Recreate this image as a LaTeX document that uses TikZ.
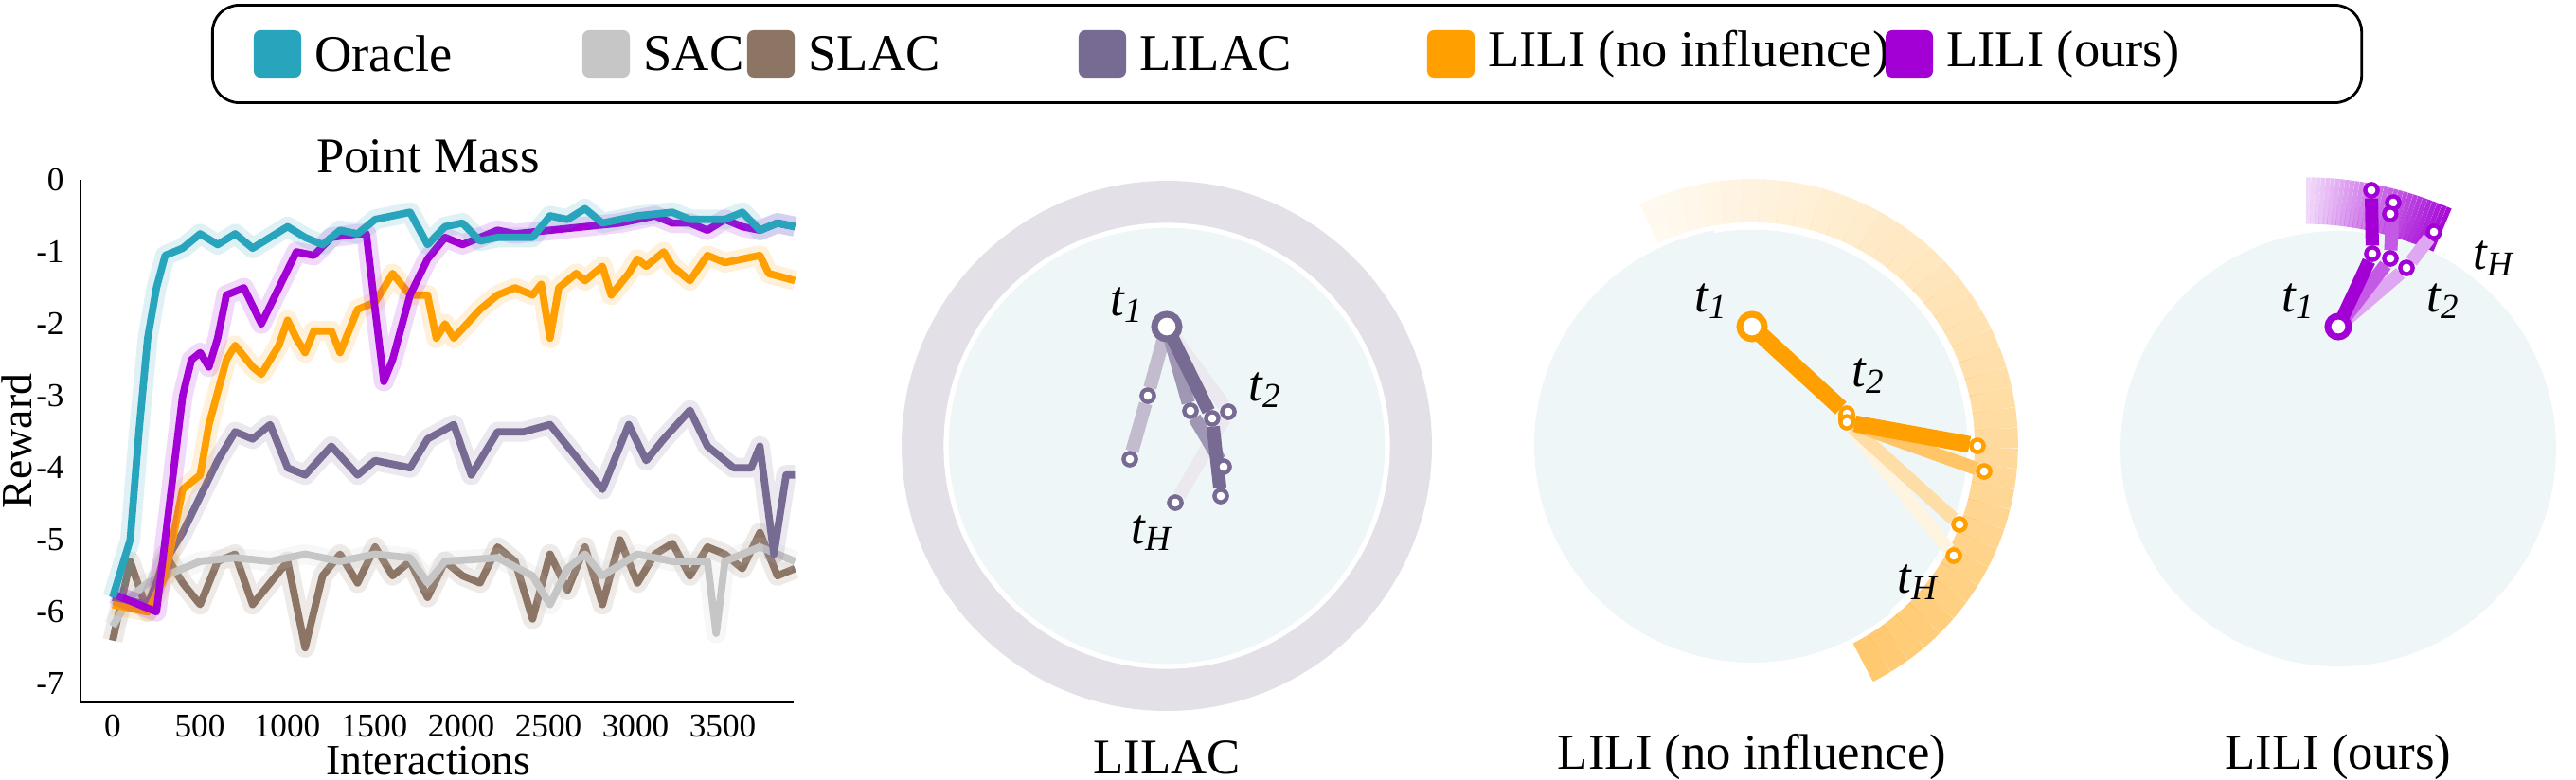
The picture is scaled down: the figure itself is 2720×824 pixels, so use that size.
\documentclass[tikz,border=0pt]{standalone}
\usepackage{fontspec}
\setmainfont{Liberation Serif}
\begin{document}
\begin{tikzpicture}[x=0.01cm,y=-0.01cm,
  lbl/.style={font=\fontsize{15.5}{17}\selectfont, anchor=west},
  sw/.style={rounded corners=2pt, minimum width=0.5cm, minimum height=0.5cm, inner sep=0pt},
  crv/.style={line width=2.2pt, line join=round},
  band/.style={line width=6pt, opacity=0.15, line join=round},
  tick/.style={font=\fontsize{10}{11}\selectfont},
  ttl/.style={font=\fontsize{15}{17}\selectfont},
  axl/.style={font=\fontsize{13}{15}\selectfont},
  tl/.style={font=\fontsize{15}{17}\selectfont\itshape},
  pt/.style={circle, draw=#1, fill=white, line width=1.2pt, inner sep=0pt, minimum size=0.13cm}]
\definecolor{cOr}{HTML}{29A4BD}\definecolor{cSac}{HTML}{C6C6C6}\definecolor{cSlac}{HTML}{8C7565}
\definecolor{cLilac}{HTML}{776A93}\definecolor{cNo}{HTML}{FF9F00}\definecolor{cOurs}{HTML}{A300D6}
\definecolor{pale}{HTML}{EEF6F8}\definecolor{ring}{HTML}{E3E0E8}
\useasboundingbox (0,0) rectangle (2720,824);
% legend
\node[draw, rounded corners=8pt, line width=0.8pt, minimum width=22.68cm, minimum height=1.03cm] (leg) at (1359,57) {};
\node[sw, fill=cOr] (s1) at (293,57) {}; \node[lbl] (l1) at (320,57) {Oracle};
\node[sw, fill=cSac] (s2) at (640,57) {}; \node[lbl] (l2) at (667,57) {SAC};
\node[sw, fill=cSlac] (s3) at (814,57) {}; \node[lbl] (l3) at (841,57) {SLAC};
\node[sw, fill=cLilac] (s4) at (1164,57) {}; \node[lbl] (l4) at (1191,57) {LILAC};
\node[sw, fill=cNo] (s5) at (1532,57) {}; \node[lbl] (l5) at (1559,57) {LILI (no influence)};
\node[sw, fill=cOurs] (s6) at (2016,57) {}; \node[lbl] (l6) at (2043,57) {LILI (ours)};
% plot
\node[ttl] (pm) at (452,165) {Point Mass};
\node[axl, rotate=90] (rw) at (18,466) {Reward};
\node[axl, anchor=base] (ia) at (452,818) {Interactions};
\draw[line width=0.8pt] (85,190) -- (85,742) -- (838,742);
\foreach \v in {0,...,7} { \node[tick, anchor=east] (yt\v) at (80,190+76*\v) {\ifnum\v=0 0\else -\v\fi}; }
\foreach \v in {0,...,7} { \node[tick] (xt\v) at (119+92*\v,767) {\pgfmathparse{int(500*\v)}\pgfmathresult}; }
\begin{scope}[shift={(119,190)}, x=0.00184cm, y=0.76cm]
\def\dSac{(0,-6.2)(100,-5.8)(200,-5.6)(300,-5.5)(400,-5.4)(500,-5.3)(700,-5.25)(900,-5.3)(1100,-5.2)(1300,-5.3)(1500,-5.2)(1700,-5.25)(1800,-5.6)(1900,-5.3)(2200,-5.25)(2400,-5.5)(2500,-5.9)(2600,-5.4)(2700,-5.2)(2800,-5.5)(3000,-5.2)(3200,-5.3)(3400,-5.3)(3450,-6.3)(3500,-5.3)(3700,-5.1)(3900,-5.3)}
\def\dSlac{(0,-6.4)(100,-5.3)(200,-6)(300,-5.2)(400,-5.6)(500,-5.9)(600,-5.3)(700,-5.2)(800,-5.9)(900,-5.6)(1000,-5.3)(1100,-6.5)(1200,-5.5)(1300,-5.2)(1400,-5.6)(1500,-5.1)(1600,-5.5)(1700,-5.3)(1800,-5.8)(1900,-5.3)(2000,-5.5)(2100,-5.6)(2200,-5.1)(2300,-5.3)(2400,-6.1)(2500,-5.2)(2600,-5.7)(2700,-5.1)(2800,-5.9)(2900,-5)(3000,-5.6)(3100,-5.2)(3200,-5.05)(3300,-5.5)(3400,-5.1)(3500,-5.2)(3600,-5.4)(3700,-4.9)(3800,-5.5)(3900,-5.4)}
\def\dLilac{(0,-5.8)(200,-5.9)(300,-5.3)(400,-4.9)(500,-4.4)(600,-3.9)(700,-3.5)(800,-3.6)(900,-3.4)(1000,-4.0)(1100,-4.1)(1250,-3.7)(1400,-4.1)(1500,-3.9)(1700,-4)(1800,-3.6)(1950,-3.4)(2050,-4.1)(2200,-3.5)(2350,-3.5)(2500,-3.4)(2700,-4)(2800,-4.3)(2950,-3.4)(3050,-3.9)(3150,-3.6)(3300,-3.2)(3400,-3.7)(3550,-4)(3650,-4.0)(3700,-3.7)(3780,-5.2)(3850,-4.1)(3900,-4.1)}
\def\dNo{(0,-5.9)(200,-6)(300,-5.5)(400,-4.3)(500,-4.1)(550,-3.4)(650,-2.5)(700,-2.3)(800,-2.6)(850,-2.7)(950,-2.3)(1000,-1.95)(1050,-2.2)(1100,-2.4)(1150,-2.1)(1250,-2.1)(1300,-2.4)(1400,-1.8)(1500,-1.7)(1600,-1.3)(1700,-1.6)(1800,-1.6)(1850,-2.2)(1900,-2)(1950,-2.2)(2100,-1.8)(2200,-1.6)(2300,-1.5)(2400,-1.6)(2450,-1.45)(2500,-2.2)(2550,-1.5)(2650,-1.3)(2700,-1.4)(2800,-1.2)(2850,-1.6)(2950,-1.3)(3000,-1.1)(3050,-1.2)(3150,-1)(3200,-1.2)(3300,-1.4)(3400,-1.05)(3500,-1.15)(3600,-1.1)(3700,-1.05)(3750,-1.3)(3900,-1.4)}
\def\dOurs{(0,-5.75)(150,-5.9)(250,-6)(300,-5)(350,-4)(400,-3)(450,-2.5)(500,-2.4)(550,-2.6)(600,-2.2)(650,-1.6)(750,-1.5)(850,-2)(950,-1.5)(1050,-1)(1150,-1.05)(1250,-0.8)(1400,-0.75)(1450,-0.75)(1500,-1.8)(1550,-2.8)(1600,-2.5)(1700,-1.6)(1800,-1.1)(1900,-0.8)(2000,-0.9)(2100,-0.8)(2200,-0.7)(2300,-0.75)(2500,-0.7)(2700,-0.65)(2900,-0.6)(3000,-0.55)(3100,-0.5)(3200,-0.6)(3300,-0.6)(3400,-0.7)(3500,-0.55)(3600,-0.65)(3700,-0.7)(3800,-0.6)(3900,-0.65)}
\def\dOr{(0,-5.8)(100,-5)(150,-3.5)(200,-2.2)(250,-1.5)(300,-1.05)(400,-0.95)(500,-0.75)(600,-0.9)(700,-0.75)(800,-0.95)(900,-0.8)(1000,-0.65)(1100,-0.8)(1200,-0.9)(1300,-0.7)(1400,-0.75)(1500,-0.55)(1700,-0.45)(1800,-0.9)(1900,-0.65)(2000,-0.6)(2100,-0.85)(2200,-0.8)(2400,-0.8)(2500,-0.5)(2600,-0.55)(2700,-0.4)(2800,-0.6)(3000,-0.5)(3200,-0.45)(3300,-0.55)(3500,-0.55)(3600,-0.45)(3700,-0.7)(3800,-0.6)(3900,-0.65)}
\foreach \c/\d in {cSlac/\dSlac, cSac/\dSac, cLilac/\dLilac, cNo/\dNo, cOurs/\dOurs, cOr/\dOr}{
  \draw[band, \c] plot coordinates \d;
  \draw[crv, \c] plot coordinates \d;
}
\end{scope}
% LILAC panel
\fill[ring] (1232,471) circle (280);
\filldraw[fill=pale, draw=white, line width=1.5pt] (1232,471) circle (233);
\node[ttl] (tA) at (1232,800) {LILAC};
\coordinate (A1) at (1232,345);
\node[pt=cLilac] (a2) at (1212,418) {}; \node[pt=cLilac] (a3) at (1193,485) {};
\node[pt=cLilac] (a4) at (1257,434) {}; \node[pt=cLilac] (a5) at (1280,442) {};
\node[pt=cLilac] (a6) at (1297,435) {}; \node[pt=cLilac] (a7) at (1292,493) {};
\node[pt=cLilac] (a8) at (1289,524) {}; \node[pt=cLilac] (a9) at (1241,531) {};
\draw[line width=4pt, cLilac!15] (A1) -- (a6) -- (a9);
\draw[line width=4pt, cLilac!45] (A1) -- (a2) -- (a3);
\draw[line width=4pt, cLilac!70] (A1) -- (a4) -- (a7);
\draw[line width=4pt, cLilac] (A1) -- (a5) -- (a8);
\foreach \n in {a2,a3,a4,a5,a6,a7,a8,a9} \node[pt=cLilac] at (\n) {};
\node[pt=cLilac, minimum size=0.26cm, line width=2pt] (a1) at (A1) {};
\node[tl] (la1) at (1190,322) {t\textsubscript{1}};
\node[tl] (la2) at (1336,412) {t\textsubscript{2}};
\node[tl] (la3) at (1216,563) {t\textsubscript{H}};
% LILI no influence panel
\fill[pale] (1850,470) circle (230);
\foreach \i in {0,...,39}{
  \pgfmathsetmacro\aa{-115+\i*4.45}\pgfmathsetmacro\ab{-115+(\i+1)*4.45}
  \pgfmathsetmacro\op{0.06+0.5*\i/39}
  \draw[cNo, opacity=\op, line width=13pt] (1850,470) ++(\aa:258) arc[start angle=\aa, end angle=\ab, radius=258];
}
\draw[white, line width=1.5pt] (1850,470) ++(-100:230) arc[start angle=-100, end angle=50, radius=230];
\node[ttl] (tB) at (1850,800) {LILI (no influence)};
\coordinate (B1) at (1850,345);
\node[pt=cNo] (b2) at (1950,437) {}; \node[pt=cNo] (b3) at (1950,446) {};
\node[pt=cNo] (b4) at (2088,471) {}; \node[pt=cNo] (b5) at (2095,498) {};
\node[pt=cNo] (b6) at (2069,554) {}; \node[pt=cNo] (b7) at (2063,587) {};
\draw[line width=4pt, cNo!12] (b3) -- (b7);
\draw[line width=4pt, cNo!35] (b3) -- (b6);
\draw[line width=4pt, cNo!60] (b3) -- (b5);
\draw[line width=5pt, cNo] (B1) -- (b2) -- (b3) -- (b4);
\foreach \n in {b2,b3,b4,b5,b6,b7} \node[pt=cNo] at (\n) {};
\node[pt=cNo, minimum size=0.26cm, line width=2pt] (b1) at (B1) {};
\node[tl] (lb1) at (1807,318) {t\textsubscript{1}};
\node[tl] (lb2) at (1973,397) {t\textsubscript{2}};
\node[tl] (lb3) at (2025,615) {t\textsubscript{H}};
% LILI ours panel
\fill[pale] (2469,474) circle (230);
\foreach \i in {0,...,29}{
  \pgfmathsetmacro\xa{2435+\i*4.8}\pgfmathsetmacro\xb{2435+(\i+1)*4.8}
  \pgfmathsetmacro\ya{212+0.006*(\xa-2435)*(\xa-2435)/4}\pgfmathsetmacro\yb{212+0.006*(\xb-2435)*(\xb-2435)/4}
  \pgfmathsetmacro\op{0.15+0.8*\i/29}
  \draw[cOurs, opacity=\op, line width=14pt] (\xa,\ya) -- (\xb,\yb);
}
\node[ttl] (tC) at (2469,800) {LILI (ours)};
\coordinate (C1) at (2469,345);
\node[pt=cOurs] (c2) at (2504,201) {}; \node[pt=cOurs] (c3) at (2527,214) {};
\node[pt=cOurs] (c4) at (2524,226) {}; \node[pt=cOurs] (c5) at (2570,245) {};
\node[pt=cOurs] (c6) at (2505,268) {}; \node[pt=cOurs] (c7) at (2524,273) {};
\node[pt=cOurs] (c8) at (2541,283) {};
\draw[line width=4pt, cOurs!35] (C1) -- (c8) -- (c5);
\draw[line width=4pt, cOurs!65] (C1) -- (c7) -- (c3);
\draw[line width=4pt, cOurs] (C1) -- (c6) -- (c2);
\foreach \n in {c2,c3,c4,c5,c6,c7,c8} \node[pt=cOurs] at (\n) {};
\node[pt=cOurs, minimum size=0.22cm, line width=2pt] (c1) at (C1) {};
\node[tl] (lc1) at (2427,318) {t\textsubscript{1}};
\node[tl] (lc2) at (2580,318) {t\textsubscript{2}};
\node[tl] (lc3) at (2633,273) {t\textsubscript{H}};
\end{tikzpicture}
\end{document}
